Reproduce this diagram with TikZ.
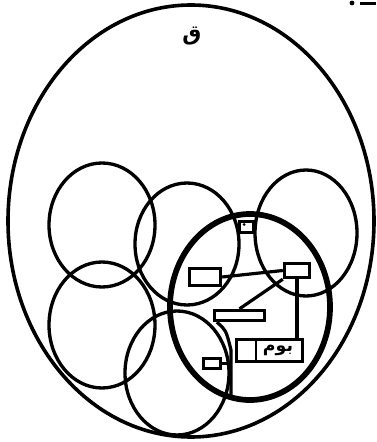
\documentclass[tikz,border=0pt]{standalone}
\usepackage{fontspec}
\TeXXeTstate=1
\newfontfamily\arabicfont[Script=Arabic]{DejaVu Sans}
\begin{document}
\begin{tikzpicture}[x=0.75pt,y=-0.75pt,
  ring/.style={line width=2.5pt},
  outerring/.style={line width=2.7pt},
  thickring/.style={line width=4.3pt},
  boxnode/.style={draw,rectangle,line width=2.5pt,inner sep=0pt,fill=white},
  link/.style={line width=2.4pt},
  lbl/.style={font=\arabicfont\bfseries\fontsize{16}{16}\selectfont,inner sep=0pt}]
\useasboundingbox (0,0) rectangle (376,442);
% outer ellipse
\draw[outerring] (191,221) ellipse (183 and 216);
% six circles
\draw[ring] (102,225) ellipse (53 and 62);
\draw[ring] (187,244) ellipse (52 and 61);
\draw[ring] (306,233) ellipse (51 and 63);
\draw[ring] (102,325) ellipse (53 and 63);
\draw[ring] (177,373) ellipse (52 and 62);
\draw[thickring] (250,307) ellipse (80 and 93);
% label
\node[lbl] (q) at (192,36) {\beginR ق\endR};
% cropped mark at top right
\fill (352,3) circle (2.4);
\draw[line width=2.4pt] (360,3.5) -- (376,3.5);
% boxes
\node[boxnode,minimum width=10.5pt,minimum height=8.25pt] (tb) at (246.5,227) {};
\fill (244,224.5) circle (1.5);
\node[boxnode,minimum width=23.25pt,minimum height=12.75pt] (lb) at (205,277) {};
\node[boxnode,minimum width=18.75pt,minimum height=10.5pt] (rb) at (297,270.5) {};
\node[boxnode,minimum width=37.5pt,minimum height=7.5pt] (lg) at (239.5,315.5) {};
\node[boxnode,minimum width=49.5pt,minimum height=16.5pt] (bb) at (269.5,350.5) {};
\node[boxnode,minimum width=12.75pt,minimum height=7.5pt] (sb) at (212,363.5) {};
\node[lbl,font=\arabicfont\bfseries\fontsize{13}{13}\selectfont] (bt) at (278,350) {\beginR بوم\endR};
\coordinate (dv1) at (256,341);
\coordinate (dv2) at (256,361);
\draw[line width=1.8pt] (dv1) -- (dv2);
% connectors
\coordinate (c1) at (231,350);
\coordinate (c2) at (231,398);
\coordinate (c3) at (231,363.5);
\draw[link] (lb.east) -- (rb.west);
\draw[link] (rb.south west) -- (lg.north);
\draw[link] (rb.south) -- (rb.south |- bb.north);
\draw[link] ([xshift=3pt]lg.south west) .. controls (226,330) .. (c1) -- (c2);
\draw[link] (sb.east) -- (c3);
\end{tikzpicture}
\end{document}
